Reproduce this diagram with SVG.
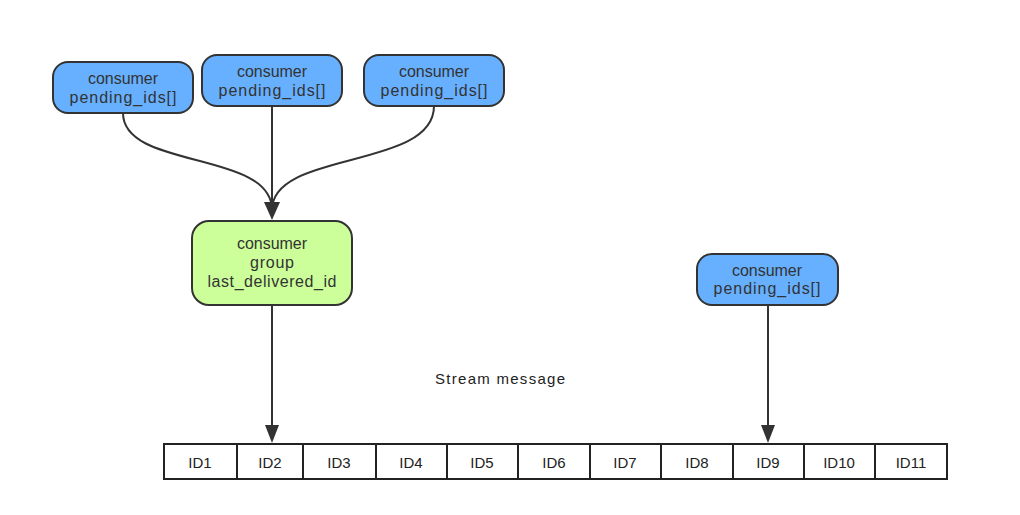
<svg xmlns="http://www.w3.org/2000/svg" width="1020" height="515" viewBox="0 0 1020 515">
<style>
.bg{fill:#ffffff}
.blue{fill:#66b0ff;stroke:#333;stroke-width:2}
.green{fill:#ccff99;stroke:#333;stroke-width:2}
.cell{fill:#fff;stroke:#222;stroke-width:2}
text{font-family:"Liberation Sans",Arial,sans-serif;font-size:16px;fill:#333;text-anchor:middle;dominant-baseline:central}
.id{font-size:15px;fill:#222}
.edge{fill:none;stroke:#333;stroke-width:2}
.head{fill:#333}
</style>
<rect class="bg" x="0" y="0" width="1020" height="515"/>
<g id="connectors">
<path class="edge" d="M123,113 C123,170 272,150 272,210"/>
<path class="edge" d="M272,106 L272,210"/>
<path class="edge" d="M434,106 C434,170 272,150 272,210"/>
<path class="head" d="M264,202 L280,202 L272,220 Z"/>
<path class="edge" d="M272,305 L272,430"/>
<path class="head" d="M265,425 L279,425 L272,443 Z"/>
<path class="edge" d="M768,305 L768,430"/>
<path class="head" d="M761,425 L775,425 L768,443 Z"/>
</g>
<g id="consumer1">
<rect class="blue" x="53" y="62" width="140" height="51" rx="15"/>
<text x="123" y="78" textLength="70" lengthAdjust="spacing">consumer</text>
<text x="123" y="97" textLength="107" lengthAdjust="spacing">pending_ids[]</text>
</g>
<g id="consumer2">
<rect class="blue" x="202" y="55" width="140" height="51" rx="15"/>
<text x="272" y="71" textLength="70" lengthAdjust="spacing">consumer</text>
<text x="272" y="90" textLength="107" lengthAdjust="spacing">pending_ids[]</text>
</g>
<g id="consumer3">
<rect class="blue" x="364" y="55" width="140" height="51" rx="15"/>
<text x="434" y="71" textLength="70" lengthAdjust="spacing">consumer</text>
<text x="434" y="90" textLength="107" lengthAdjust="spacing">pending_ids[]</text>
</g>
<g id="consumer4">
<rect class="blue" x="697" y="254" width="141" height="51" rx="15"/>
<text x="767" y="270" textLength="70" lengthAdjust="spacing">consumer</text>
<text x="767" y="288" textLength="107" lengthAdjust="spacing">pending_ids[]</text>
</g>
<g id="group">
<rect class="green" x="192" y="221" width="160" height="84" rx="17"/>
<text x="272" y="243" textLength="70" lengthAdjust="spacing">consumer</text>
<text x="272" y="262" textLength="44" lengthAdjust="spacing">group</text>
<text x="272" y="281" textLength="129" lengthAdjust="spacing">last_delivered_id</text>
</g>
<g id="stream-label">
<text x="500" y="378" class="id" textLength="130" lengthAdjust="spacing">Stream message</text>
</g>
<g id="stream">
<rect class="cell" x="164" y="444" width="73" height="35"/>
<rect class="cell" x="237" y="444" width="66" height="35"/>
<rect class="cell" x="303" y="444" width="73" height="35"/>
<rect class="cell" x="376" y="444" width="71" height="35"/>
<rect class="cell" x="447" y="444" width="71" height="35"/>
<rect class="cell" x="518" y="444" width="72" height="35"/>
<rect class="cell" x="590" y="444" width="71" height="35"/>
<rect class="cell" x="661" y="444" width="72" height="35"/>
<rect class="cell" x="733" y="444" width="71" height="35"/>
<rect class="cell" x="804" y="444" width="71" height="35"/>
<rect class="cell" x="875" y="444" width="72" height="35"/>
<text class="id" x="200" y="462">ID1</text>
<text class="id" x="270" y="462">ID2</text>
<text class="id" x="339" y="462">ID3</text>
<text class="id" x="411" y="462">ID4</text>
<text class="id" x="482" y="462">ID5</text>
<text class="id" x="554" y="462">ID6</text>
<text class="id" x="625" y="462">ID7</text>
<text class="id" x="697" y="462">ID8</text>
<text class="id" x="768" y="462">ID9</text>
<text class="id" x="839" y="462">ID10</text>
<text class="id" x="911" y="462">ID11</text>
</g>
</svg>
